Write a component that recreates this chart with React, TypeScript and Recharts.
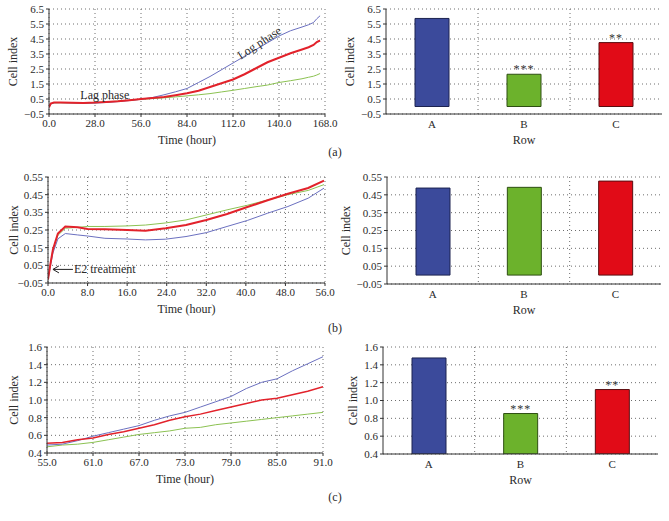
import React from 'react';
import {
  LineChart, Line, BarChart, Bar, XAxis, YAxis, CartesianGrid,
  ReferenceDot, LabelList, Cell,
} from 'recharts';

const FONT = '"Liberation Serif", "Times New Roman", serif';

// ---------- Panel (a) line data ----------
const timeA = [0, 1, 3, 7, 14, 21, 28, 35, 42, 49, 56, 63, 70, 77, 84, 91, 98, 105, 112, 119, 126, 133, 140, 147, 154, 158, 161, 163, 165];
const blueA = [-0.05, 0.15, 0.25, 0.26, 0.24, 0.22, 0.23, 0.27, 0.33, 0.40, 0.48, 0.6, 0.78, 0.98, 1.2, 1.6, 2.0, 2.45, 2.9, 3.35, 3.8, 4.25, 4.7, 5.05, 5.3, 5.45, 5.6, 5.85, 6.05];
const redA = [-0.05, 0.2, 0.27, 0.26, 0.25, 0.24, 0.26, 0.3, 0.35, 0.42, 0.5, 0.56, 0.63, 0.75, 0.88, 1.05, 1.3, 1.55, 1.8, 2.15, 2.55, 2.95, 3.25, 3.55, 3.8, 3.95, 4.1, 4.3, 4.4];
const greenA = [-0.05, 0.18, 0.25, 0.25, 0.24, 0.23, 0.25, 0.3, 0.36, 0.42, 0.48, 0.53, 0.58, 0.64, 0.71, 0.78, 0.86, 0.97, 1.08, 1.2, 1.32, 1.43, 1.6, 1.72, 1.85, 1.95, 2.02, 2.1, 2.2];
const xTicksA = [0, 28, 56, 84, 112, 140, 168];
const yTicksA = [-0.5, 0.5, 1.5, 2.5, 3.5, 4.5, 5.5, 6.5];

// ---------- Panel (b) line data ----------
const timeB = [0, 0.5, 1, 2, 3.5, 6, 8, 11.5, 16, 19.7, 23.8, 27.9, 32, 36.2, 40.3, 44.4, 48.5, 52.6, 55.8];
const blueB = [-0.03, 0.05, 0.12, 0.2, 0.23, 0.222, 0.216, 0.203, 0.199, 0.194, 0.198, 0.213, 0.235, 0.27, 0.304, 0.345, 0.383, 0.43, 0.487];
const redB = [-0.03, 0.06, 0.14, 0.23, 0.27, 0.265, 0.256, 0.254, 0.25, 0.246, 0.26, 0.278, 0.307, 0.341, 0.38, 0.418, 0.455, 0.488, 0.53];
const greenB = [-0.03, 0.06, 0.14, 0.22, 0.26, 0.265, 0.27, 0.27, 0.273, 0.278, 0.29, 0.307, 0.335, 0.364, 0.39, 0.42, 0.45, 0.474, 0.507];
const xTicksB = [0, 8, 16, 24, 32, 40, 48, 56];
const yTicksB = [-0.05, 0.05, 0.15, 0.25, 0.35, 0.45, 0.55];
// E2 treatment arrow tip (hour, cell index)
const e2Time = 1.0;
const e2Level = 0.027;

// ---------- Panel (c) line data ----------
const timeC = [55, 57, 59, 61, 63, 65, 67, 69, 71, 73, 75, 77, 79, 81, 83, 85, 87, 89, 91];
const blueC = [0.49, 0.5, 0.54, 0.59, 0.63, 0.67, 0.71, 0.77, 0.82, 0.86, 0.92, 0.98, 1.04, 1.13, 1.2, 1.24, 1.33, 1.41, 1.49];
const redC = [0.51, 0.52, 0.55, 0.57, 0.61, 0.64, 0.68, 0.72, 0.77, 0.81, 0.84, 0.88, 0.92, 0.96, 1.0, 1.02, 1.06, 1.1, 1.15];
const greenC = [0.47, 0.49, 0.5, 0.52, 0.55, 0.58, 0.61, 0.63, 0.65, 0.68, 0.69, 0.72, 0.74, 0.76, 0.78, 0.8, 0.82, 0.84, 0.86];
const xTicksC = [55, 61, 67, 73, 79, 85, 91];
const yTicksC = [0.4, 0.6, 0.8, 1.0, 1.2, 1.4, 1.6];

// ---------- Bar data ----------
const rows = ['A', 'B', 'C'];
const barValuesA = [5.87, 2.15, 4.26];
const barValuesB = [0.488, 0.492, 0.527];
const barValuesC = [1.477, 0.854, 1.123];
const sigA = ['', '***', '**'];
const sigB = ['', '', ''];
const sigC = ['', '***', '**'];

const barFill = ['#3b4a9b', '#6cb22c', '#e10b17'];
const barStroke = ['#1c2350', '#2e4f12', '#5a0d10'];
const BLUE = '#6b70c0';
const RED = '#e2222b';
const GREEN = '#8cc252';
const TEXT = '#2a2a2a';

const lineTable = (t: number[], b: number[], r: number[], g: number[], annT?: number, annV?: number) =>
  t.map((x, i) => ({ t: x, blue: b[i], red: r[i], green: g[i], ann: x === annT ? annV : null }));
const barTable = (v: number[], s: string[]) =>
  rows.map((row, i) => ({ row, value: v[i], sig: s[i] }));

const fmt = (d: number) => (v: number) => (v < 0 ? '\u2212' : '') + Math.abs(v).toFixed(d);

const tickStyle = { fontFamily: FONT, fontSize: 11, fill: TEXT };

const yLabel = (dx: number) => (props: any) => {
  const vb = props.viewBox || {};
  const x = dx;
  const y = vb.y + vb.height / 2;
  return (
    <text x={x} y={y} transform={`rotate(-90 ${x} ${y})`} textAnchor="middle"
      dominantBaseline="central" style={{ fontFamily: FONT, fontSize: 12, fill: TEXT }}>
      Cell index
    </text>
  );
};

const xLabel = (text: string, dy: number) => (props: any) => {
  const vb = props.viewBox || {};
  return (
    <text x={vb.x + vb.width / 2} y={vb.y + dy} textAnchor="middle" dominantBaseline="central"
      style={{ fontFamily: FONT, fontSize: 12, fill: TEXT }}>
      {text}
    </text>
  );
};

const starLabel = (props: any) => {
  const { x, y, width, value } = props;
  if (!value) return null;
  return (
    <text x={x + width / 2} y={y - 1} textAnchor="middle"
      style={{ fontFamily: FONT, fontSize: 12, fill: '#333', letterSpacing: 1 }}>
      {value}
    </text>
  );
};

const gridProps = { stroke: '#6e6e6e', strokeDasharray: '1 3' };
const axisLineStyle = { stroke: '#333', strokeWidth: 1 };

type LineProps = {
  left: number; top: number; width: number; margin: any; yWidth: number;
  data: any[]; xDomain: number[]; xTicks: number[]; yDomain: number[]; yTicks: number[];
  yDec: number; redWidth: number; yLabelX: number; children?: any;
};

function LinePanel(p: LineProps) {
  return (
    <div style={{ position: 'absolute', left: p.left, top: p.top }}>
      <LineChart width={p.width} height={170} data={p.data} margin={p.margin}>
        <CartesianGrid {...gridProps} />
        <XAxis dataKey="t" type="number" domain={p.xDomain} ticks={p.xTicks} tickFormatter={fmt(1)}
          tick={tickStyle} tickSize={3} tickMargin={2} height={46} axisLine={axisLineStyle}
          tickLine={axisLineStyle} allowDataOverflow label={xLabel('Time (hour)', 26)} />
        <XAxis xAxisId="top" orientation="top" height={0} tick={false} tickLine={false}
          axisLine={axisLineStyle} />
        <YAxis type="number" domain={p.yDomain} ticks={p.yTicks} tickFormatter={fmt(p.yDec)}
          tick={tickStyle} tickSize={3} tickMargin={2} width={p.yWidth} axisLine={axisLineStyle}
          tickLine={axisLineStyle} allowDataOverflow interval={0} label={yLabel(p.yLabelX)} />
        <YAxis yAxisId="right" orientation="right" width={0} tick={false} tickLine={false}
          axisLine={axisLineStyle} />
        <Line dataKey="green" stroke={GREEN} strokeWidth={1} dot={false} isAnimationActive={false} type="linear" />
        <Line dataKey="blue" stroke={BLUE} strokeWidth={1} dot={false} isAnimationActive={false} type="linear" />
        <Line dataKey="red" stroke={RED} strokeWidth={p.redWidth} dot={false} isAnimationActive={false} type="linear" />
        {p.children}
      </LineChart>
    </div>
  );
}

type BarProps = {
  left: number; top: number; width: number; margin: any; yWidth: number;
  data: any[]; yDomain: number[]; yTicks: number[]; yDec: number; yLabelX: number;
};

function BarPanel(p: BarProps) {
  return (
    <div style={{ position: 'absolute', left: p.left, top: p.top }}>
      <BarChart width={p.width} height={170} data={p.data} margin={p.margin}>
        <CartesianGrid {...gridProps}
          verticalCoordinatesGenerator={({ offset }: any) =>
            rows.slice(1).map((_, i) => offset.left + (offset.width * (i + 1)) / rows.length)} />
        <XAxis dataKey="row" tick={tickStyle} tickSize={3} tickMargin={3} height={46}
          axisLine={axisLineStyle} tickLine={false} label={xLabel('Row', 26)} />
        <XAxis xAxisId="top" orientation="top" height={0} tick={false} tickLine={false}
          axisLine={axisLineStyle} />
        <YAxis type="number" domain={p.yDomain} ticks={p.yTicks} tickFormatter={fmt(p.yDec)}
          tick={tickStyle} tickSize={3} tickMargin={2} width={p.yWidth} axisLine={axisLineStyle}
          tickLine={axisLineStyle} allowDataOverflow interval={0} label={yLabel(p.yLabelX)} />
        <YAxis yAxisId="right" orientation="right" width={0} tick={false} tickLine={false}
          axisLine={axisLineStyle} />
        <Bar dataKey="value" barSize={34} isAnimationActive={false}>
          {p.data.map((_, i) => (
            <Cell key={i} fill={barFill[i]} stroke={barStroke[i]} strokeWidth={1} />
          ))}
          <LabelList dataKey="sig" content={starLabel} />
        </Bar>
      </BarChart>
    </div>
  );
}

const panelLabel = (text: string, top: number) => (
  <div style={{
    position: 'absolute', left: 320, width: 30, top: top - 8, height: 16, lineHeight: '16px',
    textAlign: 'center', fontFamily: FONT, fontSize: 12, color: TEXT,
  }}>{text}</div>
);

// Annotation: arrow pointing at the treatment moment, with its caption
const e2Dot = (props: any) => {
  const { cx, cy, index, payload } = props;
  if (!payload || payload.ann == null || cx == null || cy == null) return <g key={`e2d${index}`} />;
  return (
    <g key={`e2d${index}`}>
      <line x1={cx} y1={cy} x2={cx + 20} y2={cy} stroke="#222" strokeWidth={1} />
      <polyline points={`${cx + 6},${cy - 3.5} ${cx},${cy} ${cx + 6},${cy + 3.5}`}
        fill="none" stroke="#222" strokeWidth={1} />
      <text x={cx + 21} y={cy} textAnchor="start" dominantBaseline="central"
        style={{ fontFamily: FONT, fontSize: 12, fill: TEXT }}>E2 treatment</text>
    </g>
  );
};

export default function App() {
  return (
    <div style={{ position: 'absolute', left: 0, top: 0, width: 669, height: 521, background: '#fff', overflow: 'hidden' }}>
      <LinePanel left={0} top={0} width={340} margin={{ top: 9, right: 15, left: 0, bottom: 10 }}
        yWidth={49} data={lineTable(timeA, blueA, redA, greenA)} xDomain={[0, 168]} xTicks={xTicksA}
        yDomain={[-0.5, 6.5]} yTicks={yTicksA} yDec={1} redWidth={2} yLabelX={13}>
        <ReferenceDot x={34} y={0.8} r={0} isFront
          shape={(s: any) => (
            <text x={s.cx} y={s.cy} textAnchor="middle" dominantBaseline="central"
              style={{ fontFamily: FONT, fontSize: 12, fill: TEXT }}>Lag phase</text>
          )} />
        <ReferenceDot x={128} y={4.25} r={0} isFront
          shape={(s: any) => (
            <text x={s.cx} y={s.cy} textAnchor="middle" dominantBaseline="central"
              transform={`rotate(-33 ${s.cx} ${s.cy})`}
              style={{ fontFamily: FONT, fontSize: 12, fill: TEXT }}>Log phase</text>
          )} />
      </LinePanel>
      <BarPanel left={340} top={0} width={329} margin={{ top: 9, right: 7, left: 0, bottom: 10 }}
        yWidth={46} data={barTable(barValuesA, sigA)} yDomain={[-0.5, 6.5]} yTicks={yTicksA} yDec={1} yLabelX={10} />
      {panelLabel('(a)', 152)}

      <LinePanel left={0} top={170} width={340} margin={{ top: 7, right: 15, left: 0, bottom: 11 }}
        yWidth={48} data={lineTable(timeB, blueB, redB, greenB, e2Time, e2Level)} xDomain={[0, 56]} xTicks={xTicksB}
        yDomain={[-0.05, 0.55]} yTicks={yTicksB} yDec={2} redWidth={2} yLabelX={14}>
        <Line dataKey="ann" stroke="none" isAnimationActive={false}
          type="linear" dot={e2Dot} activeDot={false} />
      </LinePanel>
      <BarPanel left={340} top={170} width={329} margin={{ top: 7, right: 8, left: 0, bottom: 10 }}
        yWidth={47} data={barTable(barValuesB, sigB)} yDomain={[-0.05, 0.55]} yTicks={yTicksB} yDec={2} yLabelX={6} />
      {panelLabel('(b)', 328)}

      <LinePanel left={0} top={340} width={340} margin={{ top: 7, right: 17, left: 0, bottom: 11 }}
        yWidth={47} data={lineTable(timeC, blueC, redC, greenC)} xDomain={[55, 91]} xTicks={xTicksC}
        yDomain={[0.4, 1.6]} yTicks={yTicksC} yDec={1} redWidth={1.5} yLabelX={14} />
      <BarPanel left={340} top={340} width={329} margin={{ top: 7, right: 11, left: 0, bottom: 10 }}
        yWidth={43} data={barTable(barValuesC, sigC)} yDomain={[0.4, 1.6]} yTicks={yTicksC} yDec={1} yLabelX={13} />
      {panelLabel('(c)', 497)}
    </div>
  );
}
